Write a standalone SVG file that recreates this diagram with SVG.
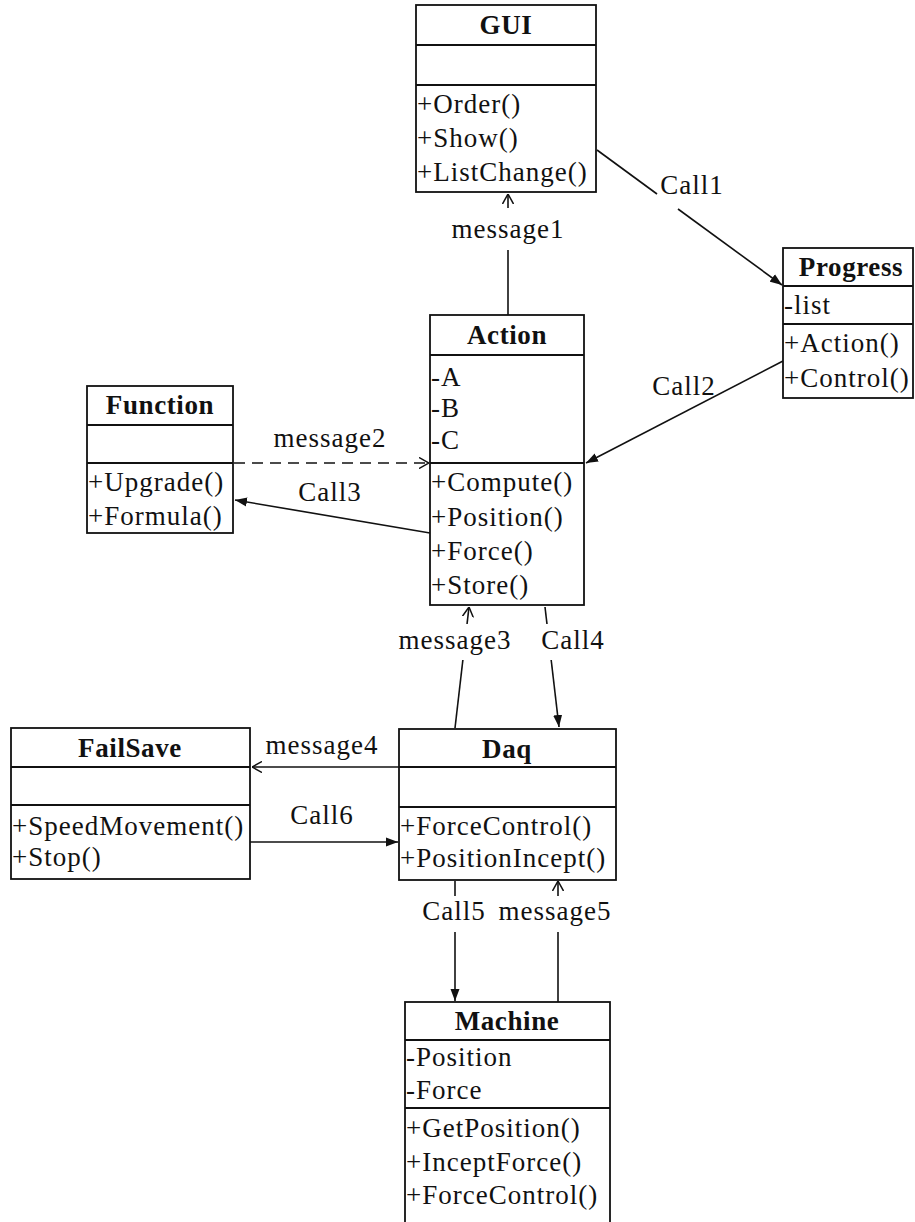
<svg xmlns="http://www.w3.org/2000/svg" width="915" height="1222" viewBox="0 0 915 1222">
  <style>
    .box { fill: #ffffff; stroke: #111111; stroke-width: 1.8; }
    .div { stroke: #111111; stroke-width: 1.8; }
    .title { font-family: "Liberation Serif", "Times New Roman", serif; font-size: 27px; font-weight: bold; fill: #111111; text-anchor: middle; letter-spacing: 0.6px; }
    .item { font-family: "Liberation Serif", "Times New Roman", serif; font-size: 27px; fill: #111111; letter-spacing: 1px; }
    .lbl { font-family: "Liberation Serif", "Times New Roman", serif; font-size: 27px; fill: #111111; text-anchor: middle; letter-spacing: 1px; }
    .edge { fill: none; stroke: #111111; stroke-width: 1.6; }
    .dash { stroke-dasharray: 11 7; }
    .bg { fill: #ffffff; }
  </style>
  <defs>
    <marker id="solid" viewBox="0 0 12 10" refX="12" refY="5" markerWidth="12" markerHeight="10" markerUnits="userSpaceOnUse" orient="auto">
      <path d="M0,0.5 L12,5 L0,9.5 z" fill="#111111"/>
    </marker>
    <marker id="open" viewBox="0 0 10 12" refX="10" refY="6" markerWidth="10" markerHeight="12" markerUnits="userSpaceOnUse" orient="auto">
      <path d="M0,0.5 L10,6 L0,11.5" fill="none" stroke="#111111" stroke-width="1.5"/>
    </marker>
  </defs>

  <!-- connectors -->
  <g id="connectors">
    <!-- Call1: GUI -> Progress -->
    <line class="edge" x1="597" y1="150" x2="657" y2="194"/>
    <line class="edge" x1="678" y1="209" x2="782" y2="285" marker-end="url(#solid)"/>
    <text class="lbl" x="692" y="194">Call1</text>

    <!-- message1: Action -> GUI -->
    <line class="edge" x1="508" y1="315" x2="508" y2="194" marker-end="url(#open)"/>
    <rect class="bg" x="444" y="208" width="128" height="42"/>
    <text class="lbl" x="508" y="238">message1</text>

    <!-- Call2: Progress -> Action -->
    <line class="edge" x1="783" y1="361" x2="586" y2="463" marker-end="url(#solid)"/>
    <text class="lbl" x="684" y="395">Call2</text>

    <!-- message2: Function -> Action (dashed) -->
    <line class="edge dash" x1="234" y1="463" x2="429" y2="463" marker-end="url(#open)"/>
    <text class="lbl" x="330" y="447">message2</text>

    <!-- Call3: Action -> Function -->
    <line class="edge" x1="430" y1="533" x2="235" y2="500" marker-end="url(#solid)"/>
    <text class="lbl" x="330" y="501">Call3</text>

    <!-- message3: Daq -> Action -->
    <line class="edge" x1="455" y1="728" x2="469" y2="607" marker-end="url(#open)"/>
    <rect class="bg" x="398" y="624" width="114" height="36"/>
    <text class="lbl" x="455" y="649">message3</text>

    <!-- Call4: Action -> Daq -->
    <line class="edge" x1="545" y1="607" x2="559" y2="727" marker-end="url(#solid)"/>
    <rect class="bg" x="540" y="624" width="64" height="36"/>
    <text class="lbl" x="573" y="649">Call4</text>

    <!-- message4: Daq -> FailSave -->
    <line class="edge" x1="399" y1="767" x2="252" y2="767" marker-end="url(#open)"/>
    <text class="lbl" x="322" y="754">message4</text>

    <!-- Call6: FailSave -> Daq -->
    <line class="edge" x1="250" y1="842" x2="398" y2="842" marker-end="url(#solid)"/>
    <text class="lbl" x="322" y="824">Call6</text>

    <!-- Call5: Daq -> Machine -->
    <line class="edge" x1="455" y1="881" x2="455" y2="1001" marker-end="url(#solid)"/>
    <!-- message5: Machine -> Daq -->
    <line class="edge" x1="558" y1="1002" x2="558" y2="881" marker-end="url(#open)"/>
    <rect class="bg" x="418" y="896" width="196" height="36"/>
    <text class="lbl" x="454" y="920">Call5</text>
    <text class="lbl" x="555" y="920">message5</text>
  </g>

  <!-- GUI -->
  <g id="gui">
    <rect class="box" x="416" y="5" width="180" height="187"/>
    <line class="div" x1="416" y1="45" x2="596" y2="45"/>
    <line class="div" x1="416" y1="85" x2="596" y2="85"/>
    <text class="title" x="506" y="34">GUI</text>
    <text class="item" x="417" y="113">+Order()</text>
    <text class="item" x="417" y="147">+Show()</text>
    <text class="item" x="417" y="181">+ListChange()</text>
  </g>

  <!-- Progress -->
  <g id="progress">
    <rect class="box" x="783" y="248" width="130" height="150"/>
    <line class="div" x1="783" y1="286" x2="913" y2="286"/>
    <line class="div" x1="783" y1="324" x2="913" y2="324"/>
    <text class="title" x="851" y="276">Progress</text>
    <text class="item" x="784" y="314">-list</text>
    <text class="item" x="784" y="352">+Action()</text>
    <text class="item" x="784" y="387">+Control()</text>
  </g>

  <!-- Action -->
  <g id="action">
    <rect class="box" x="430" y="315" width="154" height="290"/>
    <line class="div" x1="430" y1="355" x2="584" y2="355"/>
    <line class="div" x1="430" y1="463" x2="584" y2="463"/>
    <text class="title" x="507" y="344">Action</text>
    <text class="item" x="431" y="386">-A</text>
    <text class="item" x="431" y="417">-B</text>
    <text class="item" x="431" y="449">-C</text>
    <text class="item" x="431" y="491">+Compute()</text>
    <text class="item" x="431" y="526">+Position()</text>
    <text class="item" x="431" y="560">+Force()</text>
    <text class="item" x="431" y="594">+Store()</text>
  </g>

  <!-- Function -->
  <g id="function">
    <rect class="box" x="87" y="386" width="146" height="147"/>
    <line class="div" x1="87" y1="425" x2="233" y2="425"/>
    <line class="div" x1="87" y1="463" x2="233" y2="463"/>
    <text class="title" x="160" y="414">Function</text>
    <text class="item" x="88" y="491">+Upgrade()</text>
    <text class="item" x="88" y="525">+Formula()</text>
  </g>

  <!-- FailSave -->
  <g id="failsave">
    <rect class="box" x="11" y="728" width="239" height="151"/>
    <line class="div" x1="11" y1="767" x2="250" y2="767"/>
    <line class="div" x1="11" y1="805" x2="250" y2="805"/>
    <text class="title" x="130" y="757">FailSave</text>
    <text class="item" x="12" y="835">+SpeedMovement()</text>
    <text class="item" x="12" y="866">+Stop()</text>
  </g>

  <!-- Daq -->
  <g id="daq">
    <rect class="box" x="399" y="729" width="217" height="151"/>
    <line class="div" x1="399" y1="767" x2="616" y2="767"/>
    <line class="div" x1="399" y1="807" x2="616" y2="807"/>
    <text class="title" x="507" y="758">Daq</text>
    <text class="item" x="400" y="835">+ForceControl()</text>
    <text class="item" x="400" y="867">+PositionIncept()</text>
  </g>

  <!-- Machine -->
  <g id="machine">
    <rect class="box" x="405" y="1002" width="205" height="230"/>
    <line class="div" x1="405" y1="1040" x2="610" y2="1040"/>
    <line class="div" x1="405" y1="1108" x2="610" y2="1108"/>
    <text class="title" x="507" y="1030">Machine</text>
    <text class="item" x="406" y="1066">-Position</text>
    <text class="item" x="406" y="1099">-Force</text>
    <text class="item" x="406" y="1137">+GetPosition()</text>
    <text class="item" x="406" y="1171">+InceptForce()</text>
    <text class="item" x="406" y="1204">+ForceControl()</text>
  </g>
</svg>
